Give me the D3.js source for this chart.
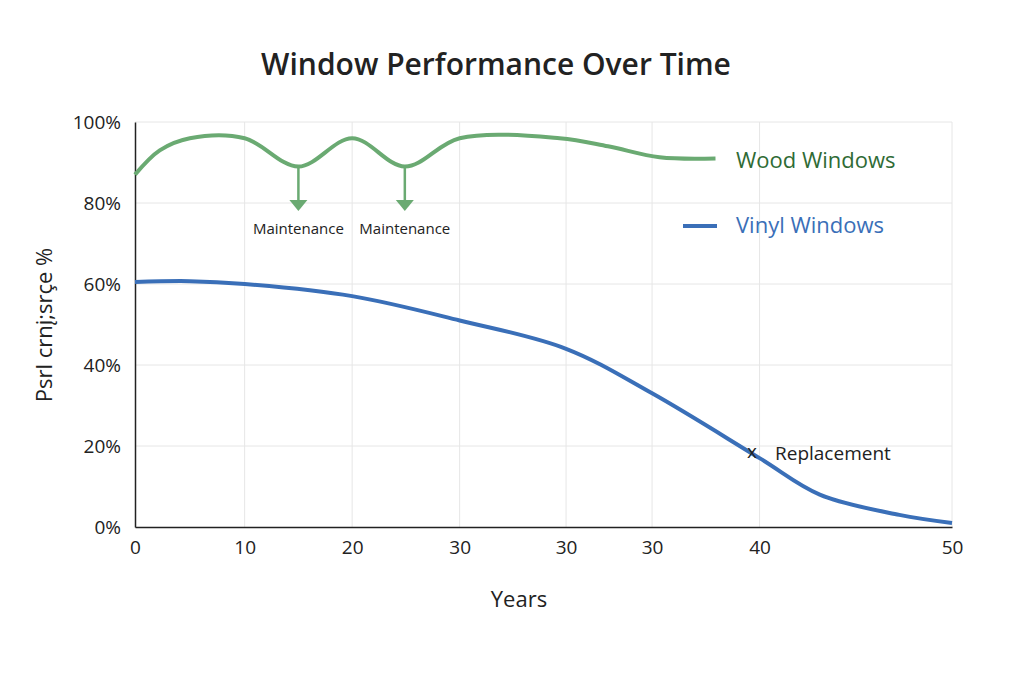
<!DOCTYPE html>
<html><head><meta charset="utf-8">
<script src="https://cdn.jsdelivr.net/npm/d3@7"></script>
<style>body{margin:0;background:#fff;font-family:"Open Sans",sans-serif}</style>
</head><body><svg id="c" width="1024" height="683"></svg>
<script>
// x positions along the axis are in "axis units" (labels are irregular in the source)
const tickPos = [0, 10.2, 20.2, 30.2, 40.1, 48.1, 58.1, 76];
const tickLabels = ["0", "10", "20", "30", "30", "30", "40", "50"];
const yTicks = [0, 20, 40, 60, 80, 100];

const woodX = [0, 2.3, 5.1, 10.2, 15.2, 20.2, 25.1, 30.2, 39.5, 44, 48.8, 54];
const woodY = [87, 93, 96, 96, 89, 96, 89, 96, 96, 94, 91.3, 91];
const vinylX = [0, 5.1, 10.2, 20.2, 30.2, 40.1, 48.1, 58.1, 63.7, 71.1, 76];
const vinylY = [60.5, 60.7, 60, 57, 51, 44, 33, 17, 8, 3, 1];
const maintX = [15.2, 25.1];

const svg = d3.select("#c");
const x = d3.scaleLinear().domain([0, 76]).range([135, 952]);
const y = d3.scaleLinear().domain([0, 100]).range([527, 122]);

svg.append("text").attr("x", 496).attr("y", 75).attr("text-anchor", "middle")
  .attr("font-size", 30).attr("font-weight", 600).attr("fill", "#222").text("Window Performance Over Time");

// grid
svg.append("g").selectAll("line").data(tickPos.slice(1)).join("line")
  .attr("x1", d => x(d)).attr("x2", d => x(d)).attr("y1", y(100)).attr("y2", y(0))
  .attr("stroke", "#e6e6e6");
svg.append("g").selectAll("line").data(yTicks.slice(1)).join("line")
  .attr("x1", x(0)).attr("x2", x(76)).attr("y1", d => y(d)).attr("y2", d => y(d))
  .attr("stroke", "#e6e6e6");

// axes
const xa = svg.append("g").attr("transform", `translate(0,${y(0)})`)
  .call(d3.axisBottom(x).tickValues(tickPos).tickFormat((d, i) => tickLabels[i]).tickSize(0).tickPadding(14));
xa.select(".domain").attr("stroke", "#222").attr("stroke-width", 1.5);
const ya = svg.append("g").attr("transform", `translate(${x(0)},0)`)
  .call(d3.axisLeft(y).tickValues(yTicks).tickFormat(d => d + "%").tickSize(0).tickPadding(14));
ya.select(".domain").attr("stroke", "#222").attr("stroke-width", 1.5);
svg.selectAll(".tick text").attr("font-size", 19).attr("fill", "#222").attr("font-family", "Open Sans");

svg.append("text").attr("x", 519).attr("y", 607).attr("text-anchor", "middle")
  .attr("font-size", 22).attr("fill", "#222").text("Years");
svg.append("text").attr("transform", "translate(52,325) rotate(-90)").attr("text-anchor", "middle")
  .attr("font-size", 22).attr("fill", "#222").text("Psrl crnį;srçe %");

const line = d3.line().curve(d3.curveCatmullRom.alpha(0.5));
svg.append("path").attr("d", line(woodX.map((d, i) => [x(d), y(woodY[i])])))
  .attr("fill", "none").attr("stroke", "#6aaa72").attr("stroke-width", 4);
svg.append("path").attr("d", line(vinylX.map((d, i) => [x(d), y(vinylY[i])])))
  .attr("fill", "none").attr("stroke", "#3a6fb8").attr("stroke-width", 4);

// maintenance arrows
maintX.forEach(m => {
  const px = x(m);
  svg.append("line").attr("x1", px).attr("x2", px).attr("y1", 166).attr("y2", 202)
    .attr("stroke", "#6aaa72").attr("stroke-width", 2.5);
  svg.append("path").attr("d", `M${px - 9},200 L${px + 9},200 L${px},211 Z`).attr("fill", "#6aaa72");
  svg.append("text").attr("x", px).attr("y", 234).attr("text-anchor", "middle")
    .attr("font-size", 15).attr("fill", "#222").text("Maintenance");
});

svg.append("text").attr("x", 747).attr("y", 458).attr("font-size", 19).attr("fill", "#222").text("x");
svg.append("text").attr("x", 775).attr("y", 460).attr("font-size", 19).attr("fill", "#222").text("Replacement");

// legend
svg.append("text").attr("x", 736).attr("y", 168).attr("font-size", 22).attr("fill", "#2f6b35").text("Wood Windows");
svg.append("line").attr("x1", 683).attr("x2", 717).attr("y1", 226).attr("y2", 226)
  .attr("stroke", "#3a6fb8").attr("stroke-width", 4);
svg.append("text").attr("x", 736).attr("y", 233).attr("font-size", 22).attr("fill", "#3a6fb8").text("Vinyl Windows");
</script></body></html>
